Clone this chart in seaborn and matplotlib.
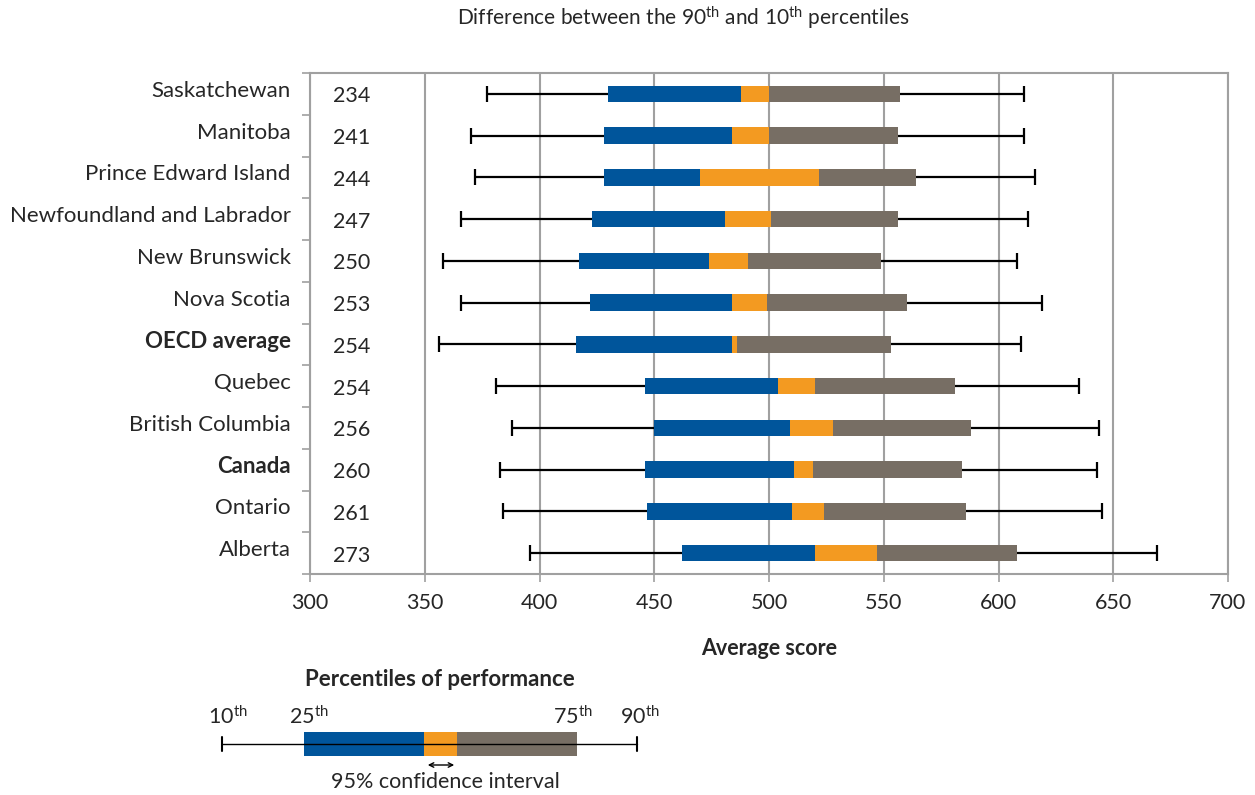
import numpy as np
import pandas as pd
import matplotlib
matplotlib.use("Agg")
import matplotlib.pyplot as plt
import seaborn as sns
from matplotlib.transforms import ScaledTranslation

# values
provinces = ["Saskatchewan", "Manitoba", "Prince Edward Island", "Newfoundland and Labrador",
             "New Brunswick", "Nova Scotia", "OECD average", "Quebec", "British Columbia",
             "Canada", "Ontario", "Alberta"]
p10 = [377, 370, 372, 366, 358, 366, 356, 381, 388, 383, 384, 396]
p25 = [430, 428, 428, 423, 417, 422, 416, 446, 450, 446, 447, 462]
ci_lo = [488, 484, 470, 481, 474, 484, 484, 504, 509, 511, 510, 520]
ci_hi = [500, 500, 522, 501, 491, 499, 486, 520, 528, 519, 524, 547]
p75 = [557, 556, 564, 556, 549, 560, 553, 581, 588, 584, 586, 608]
p90 = [611, 611, 616, 613, 608, 619, 610, 635, 644, 643, 645, 669]
gap_labels = ["234", "241", "244", "247", "250", "253", "254", "254", "256", "260", "261", "273"]
bold_rows = ["OECD average", "Canada"]
x_ticks = [300, 350, 400, 450, 500, 550, 600, 650, 700]

BLUE = "#00559B"
ORANGE = "#F39A21"
GREY = "#776E64"
LINE = "#A0A0A0"

sns.set_style("white")
plt.rcParams["font.family"] = ["Lato", "DejaVu Sans"]
plt.rcParams["mathtext.fontset"] = "custom"
plt.rcParams["mathtext.rm"] = "Lato"
plt.rcParams["mathtext.it"] = "Lato"
plt.rcParams["mathtext.bf"] = "Lato:bold"

df = pd.DataFrame({"province": provinces, "p10": p10, "p25": p25, "ci_lo": ci_lo,
                   "ci_hi": ci_hi, "p75": p75, "p90": p90})

fig = plt.figure(figsize=(12.55, 7.95), dpi=100)
ax = fig.add_axes([310 / 1255, 1 - 574 / 795, 918 / 1255, 501 / 795])

# whiskers 10th -> 90th, drawn under the bars
pos = np.arange(len(df))
ax.hlines(pos, df["p10"], df["p90"], color="black", lw=1.6, zorder=2)
ax.plot(df["p10"], pos, ls="none", marker="|", ms=12, mew=1.6, color="black", zorder=2)
ax.plot(df["p90"], pos, ls="none", marker="|", ms=12, mew=1.6, color="black", zorder=2)

segments = [("p25", "ci_lo", BLUE), ("ci_lo", "ci_hi", ORANGE), ("ci_hi", "p75", GREY)]
for lo, hi, col in segments:
    sns.barplot(data=df, y="province", x=df[hi] - df[lo], left=df[lo], orient="h",
                color=col, saturation=1, width=0.4, errorbar=None, linewidth=0,
                ax=ax, zorder=3)

ax.set_xlim(300, 700)
ax.set_ylim(len(df) - 0.5, -0.5)
ax.set_xticks(x_ticks)
ax.set_xticklabels([str(t) for t in x_ticks], fontsize=15.5)
ax.set_yticks(pos)
ax.set_yticklabels(provinces, fontsize=16)
ax.set_yticks(np.arange(len(df) + 1) - 0.5, minor=True)
ax.tick_params(axis="y", which="major", length=0, pad=14)
ax.tick_params(axis="y", which="minor", length=6, width=1.2, color=LINE, left=True)
ax.tick_params(axis="x", length=6, width=1.2, color=LINE, bottom=True, pad=8)
for lbl in ax.get_yticklabels():
    lbl.set_transform(lbl.get_transform() + ScaledTranslation(0, 5 / 100, fig.dpi_scale_trans))
    if lbl.get_text() in bold_rows:
        lbl.set_fontweight("bold")

ax.grid(axis="x", color=LINE, lw=1.5)
ax.grid(axis="y", visible=False)
ax.set_axisbelow(True)
for sp in ax.spines.values():
    sp.set_visible(True)
    sp.set_color(LINE)
    sp.set_linewidth(1.5)

for i, g in enumerate(gap_labels):
    ax.text(318, i + 0.06, g, ha="center", va="center", fontsize=15.5)

ax.set_ylabel("")
ax.set_xlabel("Average score", fontsize=15.5, fontweight="bold", labelpad=18)

fig.text(683 / 1255, 1 - 18 / 795,
         r"Difference between the 90$^{\mathrm{th}}$ and 10$^{\mathrm{th}}$ percentiles",
         ha="center", va="center", fontsize=15)

# legend schematic, drawn in pixel coordinates
lg = fig.add_axes([0, 0, 1, 1], facecolor="none")
lg.set_xlim(0, 1255)
lg.set_ylim(795, 0)
lg.axis("off")
ly = 744
lg.plot([222, 637], [ly, ly], color="black", lw=1)
lg.plot([222, 222], [ly - 7, ly + 7], color="black", lw=1.5)
lg.plot([637, 637], [ly - 7, ly + 7], color="black", lw=1.5)
for x0, x1, col in [(304, 424, BLUE), (424, 457, ORANGE), (457, 577, GREY)]:
    lg.add_patch(plt.Rectangle((x0, ly - 12), x1 - x0, 24, color=col, lw=0))
lg.annotate("", xy=(425, 765), xytext=(457, 765),
            arrowprops=dict(arrowstyle="<->", color="black", lw=1, mutation_scale=8))
lg.text(440, 680, "Percentiles of performance", ha="center", va="center",
        fontsize=16, fontweight="bold")
lg.text(445, 782, "95% confidence interval", ha="center", va="center", fontsize=15.5)
for x, t in [(228, "10"), (309, "25"), (573, "75"), (640, "90")]:
    lg.text(x, 717, t + r"$^{\mathrm{th}}$", ha="center", va="center", fontsize=15.5)

fig.savefig("out.png", dpi=100)
